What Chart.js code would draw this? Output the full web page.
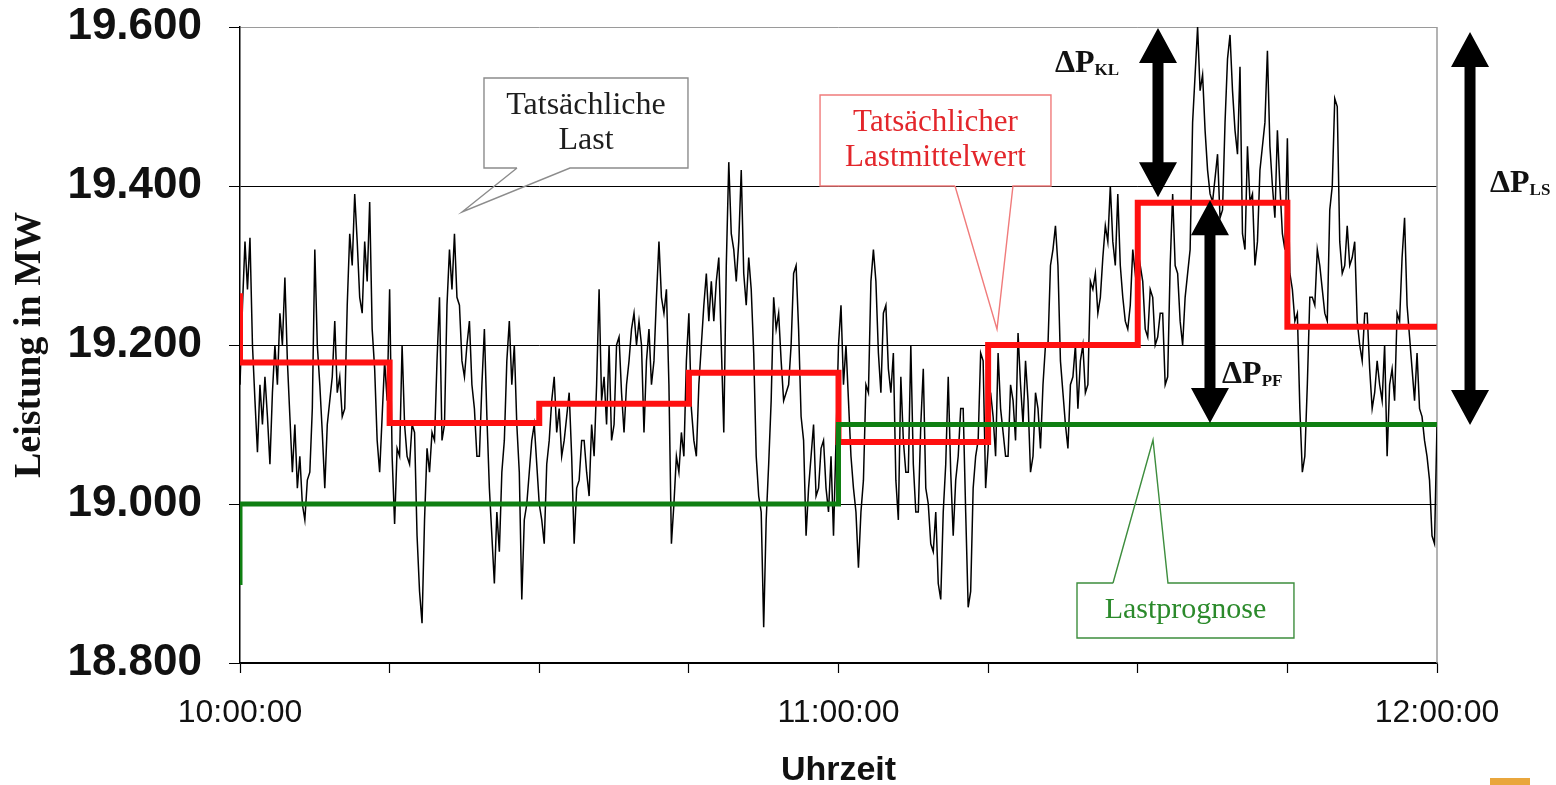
<!DOCTYPE html>
<html lang="de">
<head>
<meta charset="UTF-8">
<title>Leistung in MW</title>
<script src="https://cdn.jsdelivr.net/npm/chart.js"></script>
<style>
  html, body { margin: 0; padding: 0; background: #fff; }
  canvas { display: block; }
</style>
</head>
<body>
<canvas id="chart" width="1556" height="785"></canvas>
<script>
// minutes after 10:00 between two load samples
const sampleStep = 0.25;

const loadValues = [
  // 10:00 - 10:20
  19150, 19250, 19330, 19270, 19335, 19200, 19130, 19065, 19150, 19100,
  19160, 19110, 19050, 19140, 19200, 19150, 19240, 19200, 19285, 19180,
  19110, 19040, 19100, 19020, 19060, 19000, 18980, 19030, 19040, 19120,
  19320, 19200, 19150, 19090, 19020, 19100, 19130, 19160, 19230, 19140,
  19160, 19110, 19120, 19250, 19340, 19300, 19390, 19330, 19260, 19240,
  19330, 19280, 19380, 19220, 19170, 19080, 19040, 19110, 19180, 19130,
  19270, 19060, 18975, 19070, 19060, 19200, 19100, 19060, 19050, 19100,
  19090, 18960, 18890, 18850, 18980, 19070, 19040, 19090, 19080, 19180,
  // 10:20 - 10:40
  19260, 19080, 19100, 19250, 19320, 19270, 19340, 19260, 19250, 19180,
  19160, 19200, 19230, 19150, 19120, 19060, 19060, 19150, 19220, 19110,
  19020, 18960, 18900, 18990, 18940, 19040, 19080, 19180, 19230, 19150,
  19200, 19100, 19040, 18880, 18980, 19000, 19040, 19080, 19100, 19050,
  19000, 18980, 18950, 19050, 19080, 19130, 19160, 19090, 19120, 19060,
  19080, 19110, 19140, 19060, 18950, 19020, 19030, 19080, 19080, 19040,
  19010, 19100, 19060, 19150, 19270, 19130, 19160, 19100, 19200, 19080,
  19100, 19200, 19210, 19140, 19090, 19150, 19180, 19220, 19240, 19200,
  // 10:40 - 11:00
  19230, 19200, 19090, 19180, 19220, 19150, 19180, 19260, 19330, 19260,
  19240, 19270, 19150, 18950, 19000, 19060, 19040, 19090, 19060, 19180,
  19240, 19120, 19080, 19060, 19150, 19200, 19250, 19290, 19230, 19280,
  19230, 19280, 19310, 19200, 19090, 19300, 19430, 19340, 19320, 19280,
  19330, 19420, 19290, 19250, 19310, 19270, 19190, 19060, 19010, 18990,
  18845, 18980, 19050, 19130, 19260, 19220, 19240, 19180, 19130, 19140,
  19150, 19200, 19290, 19300, 19220, 19110, 19080, 18960, 19020, 19060,
  19100, 19010, 19020, 19070, 19080, 19020, 18990, 19060, 18960, 19080,
  // 11:00 - 11:20
  19200, 19250, 19150, 19200, 19130, 19060, 19020, 18990, 18920, 18990,
  19030, 19150, 19140, 19280, 19320, 19280, 19190, 19140, 19240, 19250,
  19170, 19140, 19190, 19030, 18980, 19160, 19080, 19040, 19040, 19200,
  19050, 18990, 18990, 19100, 19170, 19020, 19000, 18950, 18940, 18990,
  18900, 18880, 18990, 19050, 19160, 19040, 18960, 19030, 19060, 19120,
  19120, 18990, 18870, 18890, 19020, 19060, 19080, 19190, 19180, 19020,
  19070, 19140, 19110, 19060, 19190, 19120, 19090, 19060, 19060, 19150,
  19130, 19080, 19215, 19150, 19100, 19180, 19130, 19040, 19060, 19140,
  // 11:20 - 11:40
  19120, 19070, 19150, 19200, 19200, 19300, 19320, 19350, 19300, 19180,
  19140, 19100, 19070, 19150, 19160, 19200, 19120, 19180, 19200, 19140,
  19150, 19280, 19270, 19290, 19240, 19260, 19310, 19350, 19330, 19400,
  19330, 19300, 19390, 19300, 19260, 19230, 19220, 19250, 19320, 19290,
  19260, 19300, 19280, 19220, 19210, 19270, 19260, 19200, 19210, 19240,
  19240, 19150, 19160, 19300, 19390, 19300, 19290, 19230, 19200, 19260,
  19290, 19320, 19480, 19540, 19600, 19520, 19540, 19470, 19420, 19390,
  19380, 19410, 19440, 19360, 19370, 19480, 19560, 19590, 19520, 19470,
  // 11:40 - 12:00
  19440, 19550, 19340, 19320, 19450, 19380, 19390, 19300, 19330, 19420,
  19450, 19480, 19570, 19450, 19400, 19360, 19470, 19400, 19340, 19320,
  19460, 19290, 19270, 19230, 19240, 19120, 19040, 19060, 19150, 19260,
  19260, 19250, 19320, 19300, 19270, 19240, 19230, 19370, 19400, 19510,
  19500, 19330, 19290, 19300, 19350, 19300, 19310, 19330, 19230, 19200,
  19180, 19240, 19240, 19170, 19120, 19140, 19180, 19150, 19130, 19200,
  19060, 19150, 19170, 19130, 19240, 19230, 19310, 19360, 19250, 19210,
  19170, 19130, 19190, 19120, 19110, 19080, 19060, 19030, 18960, 18950,
  19100
];

// quarter-hour mean of the actual load (stepped)
const meanTimes  = [0, 0, 15, 30, 45, 60, 75, 90, 105, 120];
const meanValues = [19265, 19178, 19102, 19126, 19165, 19078, 19200, 19379, 19223, 19223];

// load forecast (stepped)
const forecastTimes  = [0, 0, 60, 120];
const forecastValues = [18898, 19000, 19100, 19100];

const xTicks = [0, 15, 30, 45, 60, 75, 90, 105, 120];
const xLabelTicks = [0, 60, 120];
const xTickLabels = ['10:00:00', '11:00:00', '12:00:00'];
const yTicks = [18800, 19000, 19200, 19400, 19600];

// callouts, arrows and delta labels, placed in data units (minutes, MW)
const callouts = [
  { lines: ['Tatsächliche', 'Last'], size: 32, color: '#1e1e1e', border: '#8c8c8c',
    box: [24.46, 44.91, 19535.8, 19422.6], side: 'bottom', attach: [27.77, 33.08], tip: [22.26, 19367.3] },
  { lines: ['Tatsächlicher', 'Lastmittelwert'], size: 31, color: '#e3262b', border: '#f07b7b',
    box: [58.15, 81.30, 19514.5, 19400.0], side: 'bottom', attach: [71.68, 77.49], tip: [75.89, 19220.0] },
  { lines: ['Lastprognose'], size: 30, color: '#2b8a2b', border: '#3d8d3d',
    box: [83.91, 105.66, 18900.6, 18831.4], side: 'top', attach: [87.52, 93.03], tip: [91.53, 19080.5] }
];
const arrows = [
  { x: 92.03, from: 19598.7, to: 19386.0 },
  { x: 97.24, from: 19382.0, to: 19101.9 },
  { x: 123.31, from: 19593.7, to: 19099.4 }
];
const deltaLabels = [
  { x: 81.70, y: 19543.0, sub: 'KL' },
  { x: 98.45, y: 19152.0, sub: 'PF' },
  { x: 125.31, y: 19392.5, sub: 'LS' }
];

const sans = "'Liberation Sans', Arial, sans-serif";
const serif = "'Liberation Serif', 'Times New Roman', serif";

function fmtMW(v) {
  return String(v).replace(/(\d)(?=(\d{3})+$)/, '$1.');
}

const annotationPlugin = {
  id: 'annotations',
  beforeDatasetsDraw(chart) {
    const { ctx, chartArea: a } = chart;
    ctx.save();
    ctx.strokeStyle = '#9a9a9a';
    ctx.lineWidth = 1.5;
    ctx.beginPath();
    ctx.moveTo(a.right, a.top);
    ctx.lineTo(a.right, a.bottom);
    ctx.stroke();
    ctx.restore();
  },
  afterDraw(chart) {
    const { ctx } = chart;
    const xs = chart.scales.x, ys = chart.scales.y;
    const px = v => xs.getPixelForValue(v);
    const py = v => ys.getPixelForValue(v);
    ctx.save();

    callouts.forEach(c => {
      const l = px(c.box[0]), r = px(c.box[1]), t = py(c.box[2]), b = py(c.box[3]);
      const a1 = px(c.attach[0]), a2 = px(c.attach[1]);
      const tx = px(c.tip[0]), ty = py(c.tip[1]);
      const edge = c.side === 'bottom' ? b : t;
      ctx.fillStyle = '#fff';
      ctx.fillRect(l, t, r - l, b - t);
      ctx.strokeStyle = c.border;
      ctx.lineWidth = 1.4;
      ctx.beginPath();
      ctx.moveTo(a1, edge);
      ctx.lineTo(tx, ty);
      ctx.lineTo(a2, edge);
      if (c.side === 'bottom') {
        ctx.lineTo(r, b); ctx.lineTo(r, t); ctx.lineTo(l, t); ctx.lineTo(l, b);
      } else {
        ctx.lineTo(r, t); ctx.lineTo(r, b); ctx.lineTo(l, b); ctx.lineTo(l, t);
      }
      ctx.lineTo(a1, edge);
      ctx.stroke();
      ctx.fillStyle = c.color;
      ctx.font = c.size + 'px ' + serif;
      ctx.textAlign = 'center';
      ctx.textBaseline = 'middle';
      const cy = (t + b) / 2, gap = 35;
      c.lines.forEach((s, i) => {
        ctx.fillText(s, (l + r) / 2, cy + (i - (c.lines.length - 1) / 2) * gap);
      });
    });

    const shaft = 11, headW = 38, headL = 35;
    ctx.fillStyle = '#000';
    arrows.forEach(ar => {
      const x = px(ar.x), y1 = py(ar.from), y2 = py(ar.to);
      ctx.beginPath();
      ctx.moveTo(x, y1);
      ctx.lineTo(x + headW / 2, y1 + headL);
      ctx.lineTo(x + shaft / 2, y1 + headL);
      ctx.lineTo(x + shaft / 2, y2 - headL);
      ctx.lineTo(x + headW / 2, y2 - headL);
      ctx.lineTo(x, y2);
      ctx.lineTo(x - headW / 2, y2 - headL);
      ctx.lineTo(x - shaft / 2, y2 - headL);
      ctx.lineTo(x - shaft / 2, y1 + headL);
      ctx.lineTo(x - headW / 2, y1 + headL);
      ctx.closePath();
      ctx.fill();
    });

    ctx.textAlign = 'left';
    ctx.textBaseline = 'alphabetic';
    deltaLabels.forEach(d => {
      const x = px(d.x), y = py(d.y);
      ctx.font = 'bold 32px ' + serif;
      ctx.fillStyle = '#111';
      ctx.fillText('ΔP', x, y);
      const w = ctx.measureText('ΔP').width;
      ctx.font = 'bold 17px ' + serif;
      ctx.fillText(d.sub, x + w, y + 3);
    });

    // small logo corner in the bottom right of the original page
    ctx.fillStyle = '#e9a63c';
    ctx.fillRect(1490, 778, 40, 7);
    ctx.restore();
  }
};

const ctx = document.getElementById('chart').getContext('2d');
new Chart(ctx, {
  type: 'line',
  data: {
    datasets: [
      {
        label: 'Tatsächliche Last',
        data: loadValues.map((v, i) => ({ x: i * sampleStep, y: v })),
        borderColor: '#000',
        borderWidth: 1.5,
        pointRadius: 0,
        tension: 0,
        order: 3
      },
      {
        label: 'Tatsächlicher Lastmittelwert',
        data: meanTimes.map((t, i) => ({ x: t, y: meanValues[i] })),
        stepped: 'before',
        borderColor: '#ff1010',
        borderWidth: 6,
        borderJoinStyle: 'miter',
        pointRadius: 0,
        order: 2
      },
      {
        label: 'Lastprognose',
        data: forecastTimes.map((t, i) => ({ x: t, y: forecastValues[i] })),
        stepped: 'before',
        borderColor: '#0f7f12',
        borderWidth: 5,
        borderJoinStyle: 'miter',
        pointRadius: 0,
        order: 1
      }
    ]
  },
  options: {
    responsive: false,
    devicePixelRatio: 1,
    animation: false,
    layout: { padding: { top: 27, right: 119, bottom: 0, left: 0 } },
    plugins: {
      legend: { display: false },
      tooltip: { enabled: false }
    },
    scales: {
      x: {
        type: 'linear',
        min: 0,
        max: 120,
        afterBuildTicks: s => { s.ticks = xTicks.map(v => ({ value: v })); },
        afterFit: s => { s.height = 122; s.paddingLeft = 0; s.paddingRight = 0; },
        ticks: {
          autoSkip: false,
          maxRotation: 0,
          padding: 21,
          color: '#111',
          font: { family: sans, size: 32 },
          callback: v => {
            const k = xLabelTicks.indexOf(v);
            return k >= 0 ? xTickLabels[k] : '';
          }
        },
        grid: { drawOnChartArea: false, drawTicks: true, tickLength: 10, tickColor: '#000', tickWidth: 1.2 },
        border: { display: true, color: '#000', width: 1.5 },
        title: {
          display: true,
          text: 'Uhrzeit',
          color: '#111',
          font: { family: sans, size: 34, weight: 'bold', lineHeight: 0.8 },
          padding: { top: 0, bottom: 1 }
        }
      },
      y: {
        min: 18800,
        max: 19600,
        afterBuildTicks: s => { s.ticks = yTicks.map(v => ({ value: v })); },
        afterFit: s => { s.width = 240; s.paddingTop = 0; s.paddingBottom = 0; },
        ticks: {
          padding: 27,
          color: '#111',
          font: { family: sans, size: 44, weight: 'bold' },
          callback: v => fmtMW(v)
        },
        grid: {
          color: c => (c.tick && c.tick.value === 19600) ? '#9a9a9a' : '#000',
          lineWidth: 1,
          drawTicks: true,
          tickLength: 11,
          tickColor: '#000'
        },
        border: { display: true, color: '#000', width: 1.5 },
        title: {
          display: true,
          text: 'Leistung in MW',
          color: '#111',
          font: { family: serif, size: 38, weight: 'bold' },
          padding: { top: 7 }
        }
      }
    }
  },
  plugins: [annotationPlugin]
});
</script>
</body>
</html>
